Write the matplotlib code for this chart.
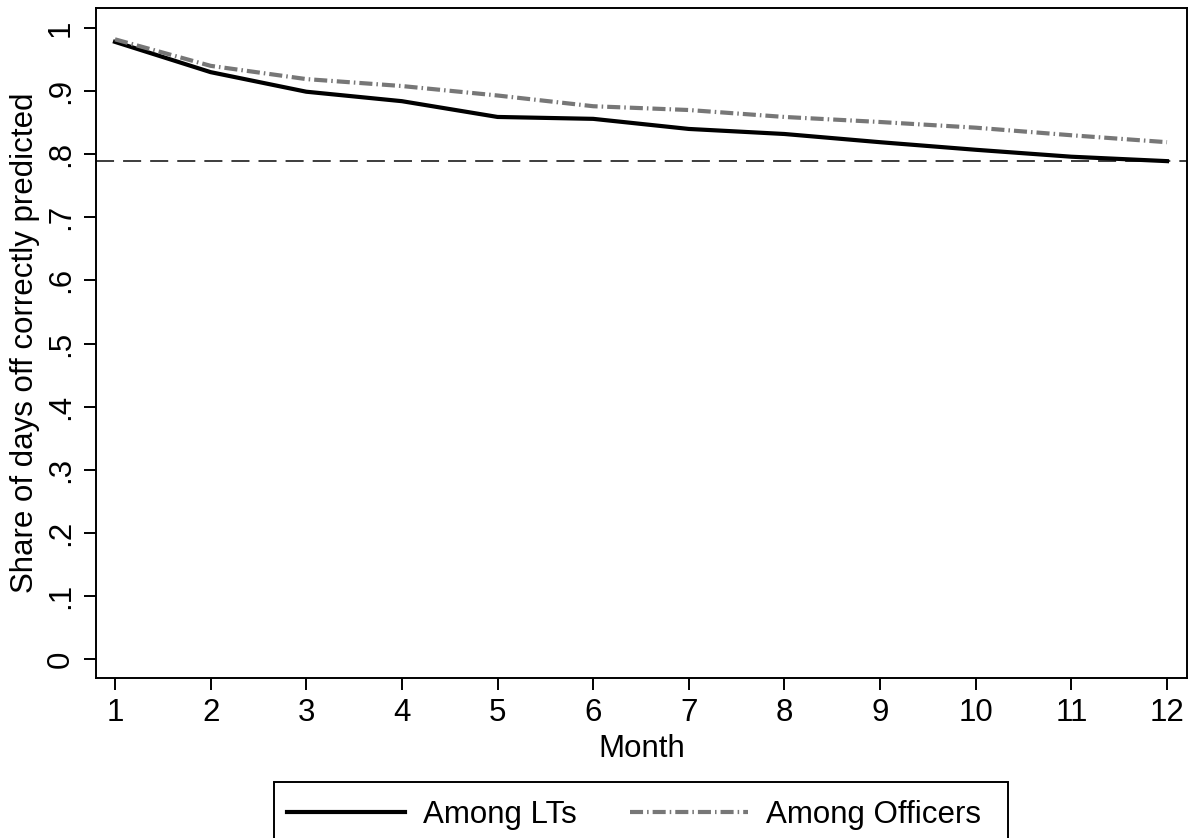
import numpy as np
import matplotlib.pyplot as plt
from matplotlib.patches import Rectangle

plt.rcParams['font.family'] = ['Liberation Sans', 'DejaVu Sans']
plt.rcParams['lines.scale_dashes'] = False

# data
months = [1, 2, 3, 4, 5, 6, 7, 8, 9, 10, 11, 12]
share_lts = [0.978, 0.930, 0.899, 0.884, 0.859, 0.856, 0.840, 0.832, 0.819, 0.807, 0.796, 0.789]
share_officers = [0.982, 0.940, 0.919, 0.908, 0.893, 0.876, 0.870, 0.859, 0.851, 0.842, 0.830, 0.819]
baseline = 0.789
yticks = [0, 0.1, 0.2, 0.3, 0.4, 0.5, 0.6, 0.7, 0.8, 0.9, 1.0]
ytick_labels = ['0', '.1', '.2', '.3', '.4', '.5', '.6', '.7', '.8', '.9', '1']

fs = 22.5
W, H = 1195, 838

fig = plt.figure(figsize=(11.95, 8.38), dpi=100)
ax = fig.add_axes([0.0803, 0.1909, 0.9130, 0.7996])

ax.axhline(baseline, color='#3c3c3c', lw=1.4, dashes=(13, 6.5))
ax.plot(months, share_lts, color='black', lw=3.0, label='Among LTs')
ax.plot(months, share_officers, color='#777777', lw=3.0, dashes=(9.4, 2.9, 1.1, 2.9),
        label='Among Officers')

ax.set_xlim(0.801, 12.209)
ax.set_ylim(-0.030, 1.0317)
ax.set_xticks(months)
ax.set_yticks(yticks)
ax.set_yticklabels(ytick_labels, rotation=90, va='center')
ax.tick_params(labelsize=fs, length=8.5, width=1.4, pad=6)
for s in ax.spines.values():
    s.set_linewidth(1.4)

ax.set_xlabel('Month', fontsize=fs, labelpad=4)
ax.set_ylabel('Share of days off correctly predicted', fontsize=fs, labelpad=4)

# legend: stata-style box drawn separately, runs off the bottom edge
fig.patches.append(Rectangle((274 / W, 1 - 846 / H), 734 / W, 64 / H,
                             transform=fig.transFigure, fill=False,
                             edgecolor='black', lw=1.4))
leg = fig.legend(loc='upper left', bbox_to_anchor=(287 / W, 1 - 800 / H), ncol=2,
                 fontsize=fs, frameon=False, handlelength=3.78,
                 handletextpad=0.58, columnspacing=1.7, borderpad=0,
                 borderaxespad=0)

fig.savefig('out.png', dpi=100)
